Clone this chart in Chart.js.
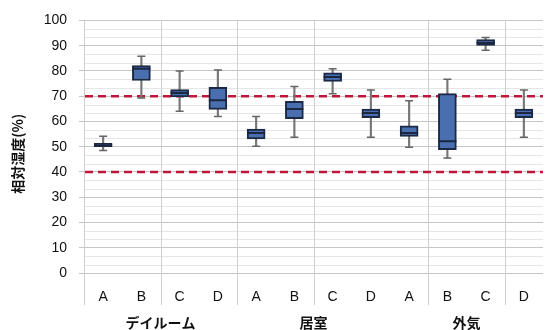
<!DOCTYPE html>
<html lang="ja">
<head>
<meta charset="utf-8">
<title>相対湿度</title>
<script src="https://cdn.jsdelivr.net/npm/chart.js@4/dist/chart.umd.min.js"></script>
<style>
  html, body { margin: 0; padding: 0; background: #fff; }
  #wrap { width: 554px; height: 330px; }
</style>
</head>
<body>
<div id="wrap"><canvas id="rh-chart" width="554" height="330"></canvas></div>
<script>
'use strict';

// 測定場所ごとの相対湿度 (%) : 箱ひげ図
var categories = ['A', 'B', 'C', 'D', 'A', 'B', 'C', 'D', 'A', 'B', 'C', 'D'];
var groups = ['デイルーム', '居室', '外気'];
var groupSize = 4;

var whiskerLow  = [48.5, 69.3, 64.0, 62.0, 50.2, 53.7, 71.0, 53.7, 49.8, 45.5, 88.2, 53.7];
var q1          = [50.0, 76.2, 69.7, 64.8, 53.1, 61.1, 75.8, 61.5, 54.1, 48.8, 90.1, 61.5];
var median      = [50.6, 80.9, 71.3, 68.4, 55.4, 64.9, 77.6, 63.3, 55.4, 52.2, 91.1, 63.3];
var q3          = [51.3, 82.1, 72.6, 73.5, 57.0, 68.0, 79.2, 64.9, 58.3, 71.0, 92.4, 64.9];
var whiskerHigh = [54.1, 85.8, 80.0, 80.4, 62.0, 73.8, 80.9, 72.4, 68.2, 76.7, 93.2, 72.4];

// 推奨範囲 (上限・下限)
var limits = [70, 40];

var yTicks = [0, 10, 20, 30, 40, 50, 60, 70, 80, 90, 100];

var boxRanges = q1.map(function(v, i) { return [v, q3[i]]; });
var whiskerRanges = whiskerLow.map(function(v, i) { return [v, whiskerHigh[i]]; });

var latin = "'Liberation Sans', Arial, sans-serif";
var cjk = "'Noto Sans CJK JP', 'Noto Sans', sans-serif";

// 補助線・区切り線・基準線・グループ名
var decorations = {
  id: 'decorations',
  beforeDatasetsDraw: function(chart) {
    var ctx = chart.ctx;
    var area = chart.chartArea;
    var x = chart.scales.x;
    var y = chart.scales.y;

    ctx.save();
    // 細かい目盛線 (10 の 1/3 ごと)
    ctx.strokeStyle = '#e6e6e6';
    ctx.lineWidth = 1;
    for (var k = 1; k < 30; k++) {
      if (k % 3 === 0) continue;
      var py = Math.round(y.getPixelForValue(k * 10 / 3)) + 0.5;
      ctx.beginPath();
      ctx.moveTo(area.left, py);
      ctx.lineTo(area.right, py);
      ctx.stroke();
    }

    // 縦の区切り線 (ラベル欄まで延ばす)
    var splits = [2, 4, 6, 9, 11];
    ctx.strokeStyle = '#cfcfcf';
    var left = Math.round(area.left) + 0.5;
    ctx.beginPath();
    ctx.moveTo(left, area.top);
    ctx.lineTo(left, 305);
    ctx.stroke();
    splits.forEach(function(i) {
      var px = Math.round((x.getPixelForValue(i - 1) + x.getPixelForValue(i)) / 2) + 0.5;
      ctx.beginPath();
      ctx.moveTo(px, area.top);
      ctx.lineTo(px, 305);
      ctx.stroke();
    });

    // 上限・下限の破線
    ctx.strokeStyle = '#c0163a';
    ctx.lineWidth = 2.5;
    ctx.setLineDash([8, 5]);
    limits.forEach(function(v) {
      var py = y.getPixelForValue(v);
      ctx.beginPath();
      ctx.moveTo(area.left + 1, py);
      ctx.lineTo(area.right, py);
      ctx.stroke();
    });
    ctx.restore();
  },
  afterDraw: function(chart) {
    var ctx = chart.ctx;
    var x = chart.scales.x;
    var y = chart.scales.y;

    ctx.save();
    ctx.fillStyle = '#111';
    ctx.font = 'bold 14px ' + cjk;
    ctx.textAlign = 'center';
    ctx.textBaseline = 'middle';
    groups.forEach(function(g, gi) {
      var a = x.getPixelForValue(gi * groupSize + 1);
      var b = x.getPixelForValue(gi * groupSize + 2);
      ctx.fillText(g, (a + b) / 2, 323);
    });

    // 縦軸タイトル
    ctx.translate(18, (y.top + y.bottom) / 2 + 7);
    ctx.rotate(-Math.PI / 2);
    ctx.fillText('相対湿度(%)', 0, 0);
    ctx.restore();
  }
};

var rhChart = new Chart(document.getElementById('rh-chart'), {
  type: 'bar',
  data: {
    labels: categories,
    datasets: [{
      label: '中央値',
      type: 'line',
      data: median,
      showLine: false,
      pointStyle: 'line',
      pointRadius: 9,
      pointBorderWidth: 2,
      pointBorderColor: '#1b2640',
      order: 0
    }, {
      label: '四分位範囲',
      data: boxRanges,
      grouped: false,
      barThickness: 18,
      backgroundColor: '#4a6fb0',
      borderColor: '#1c2945',
      borderWidth: 2,
      borderSkipped: false,
      order: 1
    }, {
      label: '最大',
      type: 'line',
      data: whiskerHigh,
      showLine: false,
      pointStyle: 'line',
      pointRadius: 4,
      pointBorderWidth: 1.5,
      pointBorderColor: '#666',
      order: 2
    }, {
      label: '最小',
      type: 'line',
      data: whiskerLow,
      showLine: false,
      pointStyle: 'line',
      pointRadius: 4,
      pointBorderWidth: 1.5,
      pointBorderColor: '#666',
      order: 2
    }, {
      label: 'ひげ',
      data: whiskerRanges,
      grouped: false,
      barThickness: 1.5,
      backgroundColor: '#777',
      borderWidth: 0,
      order: 3
    }]
  },
  options: {
    responsive: false,
    animation: false,
    layout: { padding: { top: 19, right: 0, bottom: 0, left: 0 } },
    plugins: {
      legend: { display: false },
      tooltip: { enabled: false }
    },
    scales: {
      x: {
        type: 'category',
        offset: true,
        grid: { display: false, drawTicks: false },
        border: { display: false },
        ticks: {
          padding: 16,
          color: '#111',
          font: { family: latin, size: 14 }
        },
        afterFit: function(scale) { scale.height = 57; }
      },
      y: {
        min: 0,
        max: 100,
        afterBuildTicks: function(scale) {
          scale.ticks = yTicks.map(function(v) { return { value: v }; });
        },
        grid: { color: '#c6c6c6', tickLength: 5, tickColor: '#c6c6c6' },
        border: { display: false },
        ticks: {
          padding: 12,
          color: '#111',
          font: { family: latin, size: 14 }
        },
        afterFit: function(scale) { scale.width = 84; }
      }
    }
  },
  plugins: [decorations]
});
</script>
</body>
</html>
